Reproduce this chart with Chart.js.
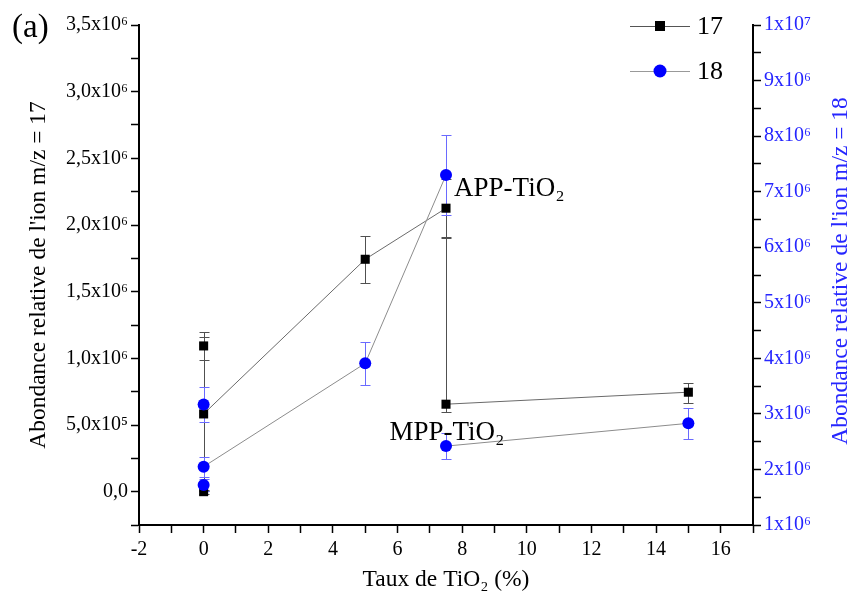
<!DOCTYPE html>
<html lang="fr">
<head>
<meta charset="UTF-8" />
<title>Abondance ions 17 / 18</title>
<style>
  html, body { margin: 0; padding: 0; background: #fff; }
</style>
</head>
<body>
<canvas id="chart" width="852" height="605"></canvas>
<script src="https://cdn.jsdelivr.net/npm/chart.js"></script>
<script>
  // TiO2 content (%)
  const xApp = [0, 5, 7.5];
  const xMpp = [7.5, 15];
  const xExtra = [0, 0];

  // m/z = 17 (left axis)
  const app17 = [583000, 1743000, 2126000];
  const app17ErrUp = [580000, 175000, 220000];
  const app17ErrDown = [580000, 175000, 220000];
  const mpp17 = [656000, 746000];
  const mpp17ErrUp = [1252000, 67000];
  const mpp17ErrDown = [60000, 78000];
  const extra17 = [1093000, 0];
  const extra17Err = [108000, 15000];

  // m/z = 18 (right axis)
  const app18 = [2050000, 3910000, 7300000];
  const app18Err = [180000, 390000, 720000];
  const mpp18 = [2420000, 2830000];
  const mpp18Err = [240000, 280000];
  const extra18 = [3170000, 1720000];
  const extra18Err = [310000, 100000];

  // tick labels
  const xTickLabels = { "-2": "-2", 0: "0", 2: "2", 4: "4", 6: "6", 8: "8", 10: "10", 12: "12", 14: "14", 16: "16" };
  const leftTickValues = [0, 500000, 1000000, 1500000, 2000000, 2500000, 3000000, 3500000];
  const leftTickLabels = ["0,0", "5,0x10⁵", "1,0x10⁶", "1,5x10⁶", "2,0x10⁶", "2,5x10⁶", "3,0x10⁶", "3,5x10⁶"];
  const rightTickValues = [1e6, 2e6, 3e6, 4e6, 5e6, 6e6, 7e6, 8e6, 9e6, 1e7];
  const rightTickLabels = ["1x10⁶", "2x10⁶", "3x10⁶", "4x10⁶", "5x10⁶", "6x10⁶", "7x10⁶", "8x10⁶", "9x10⁶", "1x10⁷"];

  const FONT = "'Liberation Serif', 'Times New Roman', serif";
  const BLUE = "#0000ff";
  const BLUE_TXT = "#2626ff";

  const pts = (xs, ys) => xs.map((x, i) => ({ x: x, y: ys[i] }));

  function series17(label, xs, ys, up, down, showLine) {
    return {
      label: label, data: pts(xs, ys), yAxisID: "y", showLine: showLine,
      borderColor: "#6a6a6a", borderWidth: 1, tension: 0,
      pointStyle: "rect", pointRadius: 6.4, pointBackgroundColor: "#000",
      pointBorderColor: "#000", pointBorderWidth: 0,
      errUp: up, errDown: down, errColor: "#505050", order: 2,
    };
  }
  function series18(label, xs, ys, err, showLine) {
    return {
      label: label, data: pts(xs, ys), yAxisID: "y2", showLine: showLine,
      borderColor: "#8c8c8c", borderWidth: 1, tension: 0,
      pointStyle: "circle", pointRadius: 6, pointBackgroundColor: BLUE,
      pointBorderColor: BLUE, pointBorderWidth: 0,
      errUp: err, errDown: err, errColor: "#6a6aff", order: 1,
    };
  }

  const errorBars = {
    id: "errorBars",
    beforeDatasetsDraw(chart) {
      const { ctx, chartArea } = chart;
      ctx.save();
      ctx.beginPath();
      ctx.rect(chartArea.left, chartArea.top, chartArea.width, chartArea.height);
      ctx.clip();
      chart.data.datasets.forEach((ds) => {
        const xs = chart.scales.x;
        const ys = chart.scales[ds.yAxisID];
        ctx.strokeStyle = ds.errColor;
        ctx.lineWidth = 1;
        ds.data.forEach((p, j) => {
          const px = Math.round(xs.getPixelForValue(p.x)) + 0.5;
          const top = Math.round(ys.getPixelForValue(p.y + ds.errUp[j])) + 0.5;
          const bot = Math.round(ys.getPixelForValue(p.y - ds.errDown[j])) + 0.5;
          ctx.beginPath();
          ctx.moveTo(px, top); ctx.lineTo(px, bot);
          ctx.moveTo(px - 5, top); ctx.lineTo(px + 5, top);
          ctx.moveTo(px - 5, bot); ctx.lineTo(px + 5, bot);
          ctx.stroke();
        });
      });
      ctx.restore();
    },
  };

  const extras = {
    id: "extras",
    afterDraw(chart) {
      const { ctx, scales } = chart;
      ctx.save();
      // right axis title, reading bottom to top
      ctx.fillStyle = BLUE_TXT;
      ctx.font = "23.5px " + FONT;
      ctx.textAlign = "center";
      ctx.textBaseline = "middle";
      ctx.translate(841, 271);
      ctx.rotate(-Math.PI / 2);
      ctx.fillText("Abondance relative de l'ion m/z = 18", 0, 0);
      ctx.restore();

      // legend
      ctx.save();
      const rows = [
        { y: 26, line: "#555", draw: (x, y) => { ctx.fillStyle = "#000"; ctx.fillRect(x - 5, y - 5, 10, 10); } },
        { y: 71, line: "#999", draw: (x, y) => { ctx.fillStyle = BLUE; ctx.beginPath(); ctx.arc(x, y, 6.5, 0, Math.PI * 2); ctx.fill(); } },
      ];
      ctx.font = "26px " + FONT;
      ctx.textBaseline = "middle";
      ctx.textAlign = "left";
      [chart.data.datasets[0], chart.data.datasets[3]].forEach((ds, i) => {
        const r = rows[i];
        ctx.strokeStyle = r.line;
        ctx.lineWidth = 1;
        ctx.beginPath();
        ctx.moveTo(630, r.y + 0.5); ctx.lineTo(690, r.y + 0.5);
        ctx.stroke();
        r.draw(660, r.y);
        ctx.fillStyle = "#000";
        ctx.fillText(ds.label, 697, r.y + 1);
      });

      // series labels
      ctx.font = "27px " + FONT;
      ctx.fillStyle = "#000";
      ctx.fillText("APP-TiO₂", scales.x.getPixelForValue(7.75), scales.y.getPixelForValue(2270000));
      ctx.fillText("MPP-TiO₂", scales.x.getPixelForValue(5.75), scales.y.getPixelForValue(440000));

      // panel tag
      ctx.font = "33px " + FONT;
      ctx.fillText("(a)", 12, 28);
      ctx.restore();
    },
  };

  const axisFont = { family: FONT, size: 20 };

  new Chart(document.getElementById("chart"), {
    type: "line",
    data: {
      datasets: [
        series17("17", xApp, app17, app17ErrUp, app17ErrDown, true),
        series17("17 MPP", xMpp, mpp17, mpp17ErrUp, mpp17ErrDown, true),
        series17("17 ref", xExtra, extra17, extra17Err, extra17Err, false),
        series18("18", xApp, app18, app18Err, true),
        series18("18 MPP", xMpp, mpp18, mpp18Err, true),
        series18("18 ref", xExtra, extra18, extra18Err, false),
      ],
    },
    options: {
      responsive: false,
      animation: false,
      layout: { padding: { top: 25, left: 0, right: 0, bottom: 0 } },
      plugins: { legend: { display: false }, tooltip: { enabled: false } },
      scales: {
        x: {
          type: "linear", position: "bottom", min: -2, max: 17,
          border: { color: "#000", width: 2 },
          grid: { drawOnChartArea: false, tickLength: 8, tickColor: "#000", tickWidth: 1.5 },
          ticks: {
            stepSize: 1, autoSkip: false, maxRotation: 0, color: "#000", padding: 5, font: axisFont,
            callback: (v) => (xTickLabels[v] !== undefined ? xTickLabels[v] : ""),
          },
          title: {
            display: true, text: "Taux de TiO₂ (%)", color: "#000",
            font: { family: FONT, size: 23.5 }, padding: { top: 0, bottom: 11 },
          },
          afterFit: (s) => { s.height = 80; },
        },
        y: {
          type: "linear", position: "left", min: -250000, max: 3500000,
          border: { color: "#000", width: 2 },
          grid: { drawOnChartArea: false, tickLength: 8, tickColor: "#000", tickWidth: 1.5 },
          ticks: {
            stepSize: 250000, autoSkip: false, color: "#000", padding: 3, font: axisFont,
            callback: (v) => { const i = leftTickValues.indexOf(v); return i >= 0 ? leftTickLabels[i] : ""; },
          },
          title: {
            display: true, text: "Abondance relative de l'ion m/z = 17", color: "#000",
            font: { family: FONT, size: 23.5 }, padding: { top: 25, bottom: 0 },
          },
          afterFit: (s) => { s.width = 139; },
        },
        y2: {
          type: "linear", position: "right", min: 1000000, max: 10000000,
          border: { color: "#000", width: 2 },
          grid: { drawOnChartArea: false, tickLength: 8, tickColor: "#000", tickWidth: 1.5 },
          ticks: {
            stepSize: 500000, autoSkip: false, color: BLUE_TXT, padding: 3, font: axisFont,
            callback: (v) => { const i = rightTickValues.indexOf(v); return i >= 0 ? rightTickLabels[i] : ""; },
          },
          afterFit: (s) => { s.width = 99; },
        },
      },
    },
    plugins: [errorBars, extras],
  });
</script>
</body>
</html>
